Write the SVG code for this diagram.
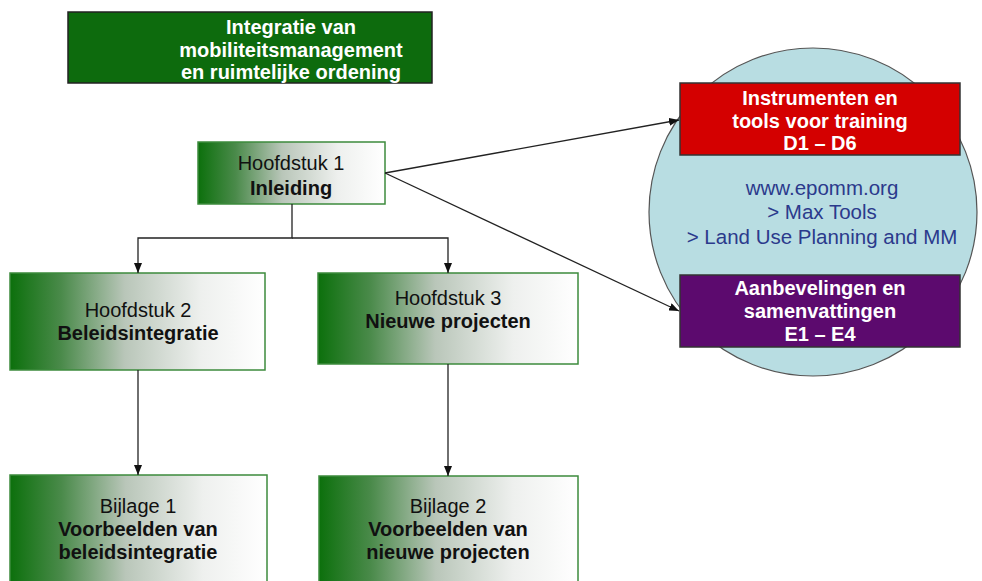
<svg xmlns="http://www.w3.org/2000/svg" width="982" height="581" viewBox="0 0 982 581">
<defs>
<linearGradient id="g" x1="0" y1="0" x2="1" y2="0">
<stop offset="0" stop-color="#0c700c"/>
<stop offset="0.2" stop-color="#4a8a4a"/>
<stop offset="0.45" stop-color="#b9c6b9"/>
<stop offset="0.75" stop-color="#eef0ee"/>
<stop offset="1" stop-color="#ffffff"/>
</linearGradient>
<marker id="a" markerWidth="10" markerHeight="8" refX="10" refY="4" orient="auto" markerUnits="userSpaceOnUse">
<path d="M0,0 L10,4 L0,8 z" fill="#111"/>
</marker>
<style>
text{font-family:"Liberation Sans",Arial,sans-serif;text-anchor:middle;font-size:20px}
.b{font-weight:bold}
.w{fill:#fff;font-weight:bold}
.k{fill:#111}
.box{fill:url(#g);stroke:#3d8b3d;stroke-width:1.5}
.c line,.c path{stroke:#222;stroke-width:1.3;fill:none}
.u{fill:#2b3a8c;font-size:20.5px}
</style>
</defs>
<rect width="982" height="581" fill="#fff"/>
<g id="circle">
<circle cx="813" cy="212" r="164" fill="#b8dde2" stroke="#555" stroke-width="1.2"/>
<text class="u" x="822" y="195">www.epomm.org</text>
<text class="u" x="822" y="219">&gt; Max Tools</text>
<text class="u" x="822" y="244">&gt; Land Use Planning and MM</text>
</g>
<g id="title">
<rect x="68" y="12" width="364" height="71" fill="#0d6b0d" stroke="#222" stroke-width="1.5"/>
<text class="w" x="291" y="34">Integratie van</text>
<text class="w" x="291" y="57">mobiliteitsmanagement</text>
<text class="w" x="291" y="79">en ruimtelijke ordening</text>
</g>
<g id="h1">
<rect class="box" x="198" y="142" width="187" height="62"/>
<text class="k" x="291" y="170">Hoofdstuk 1</text>
<text class="k b" x="291" y="195">Inleiding</text>
</g>
<g id="h2">
<rect class="box" x="10" y="273" width="255" height="97"/>
<text class="k" x="138" y="317">Hoofdstuk 2</text>
<text class="k b" x="138" y="340">Beleidsintegratie</text>
</g>
<g id="h3">
<rect class="box" x="318" y="273" width="260" height="91"/>
<text class="k" x="448" y="305">Hoofdstuk 3</text>
<text class="k b" x="448" y="328">Nieuwe projecten</text>
</g>
<g id="b1">
<rect class="box" x="10" y="475" width="257" height="120"/>
<text class="k" x="138" y="513">Bijlage 1</text>
<text class="k b" x="138" y="536">Voorbeelden van</text>
<text class="k b" x="138" y="559">beleidsintegratie</text>
</g>
<g id="b2">
<rect class="box" x="319" y="476" width="259" height="120"/>
<text class="k" x="448" y="513">Bijlage 2</text>
<text class="k b" x="448" y="536">Voorbeelden van</text>
<text class="k b" x="448" y="559">nieuwe projecten</text>
</g>
<g id="red">
<rect x="680" y="83" width="280" height="72" fill="#d40000" stroke="#333" stroke-width="1.5"/>
<text class="w" x="820" y="105">Instrumenten en</text>
<text class="w" x="820" y="128">tools voor training</text>
<text class="w" x="820" y="150">D1 – D6</text>
</g>
<g id="purple">
<rect x="680" y="275" width="280" height="72" fill="#5c0a6e" stroke="#333" stroke-width="1.5"/>
<text class="w" x="820" y="295">Aanbevelingen en</text>
<text class="w" x="820" y="318">samenvattingen</text>
<text class="w" x="820" y="341">E1 – E4</text>
</g>
<g id="connectors" class="c">
<path d="M292,204 V238 H138 V273" marker-end="url(#a)"/>
<path d="M292,238 H448 V273" marker-end="url(#a)"/>
<path d="M138,370 V475" marker-end="url(#a)"/>
<path d="M448,364 V476" marker-end="url(#a)"/>
<line x1="385" y1="173" x2="679" y2="120" marker-end="url(#a)"/>
<line x1="385" y1="173" x2="679" y2="311" marker-end="url(#a)"/>
</g>
</svg>
